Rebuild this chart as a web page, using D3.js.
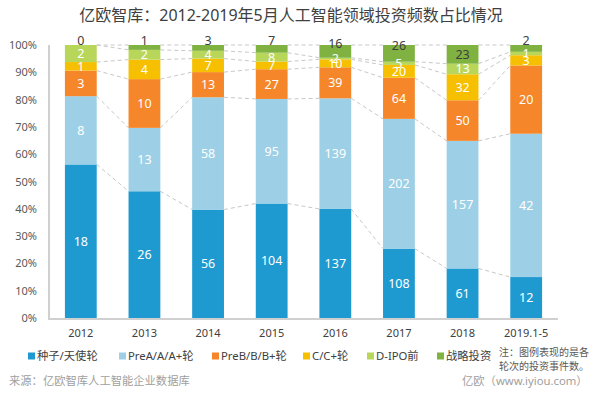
<!DOCTYPE html>
<html>
<head>
<meta charset="utf-8">
<script src="https://cdn.jsdelivr.net/npm/d3@7"></script>
<style>
  body { margin: 0; background: #fff; }
  svg { font-family: "Noto Sans", "Noto Sans CJK SC", sans-serif; }
</style>
</head>
<body>
<svg></svg>
<script>
const years = ["2012", "2013", "2014", "2015", "2016", "2017", "2018", "2019.1-5"];
const rounds = ["种子/天使轮", "PreA/A/A+轮", "PreB/B/B+轮", "C/C+轮", "D-IPO前", "战略投资"];
const seed = [18, 26, 56, 104, 137, 108, 61, 12];
const roundA = [8, 13, 58, 95, 139, 202, 157, 42];
const roundB = [3, 10, 13, 27, 39, 64, 50, 20];
const roundC = [1, 4, 7, 7, 10, 20, 32, 3];
const roundD = [2, 2, 4, 8, 2, 5, 13, 1];
const strategic = [0, 1, 3, 7, 16, 26, 23, 2];
const colors = ["#1f9ad0", "#9dd0e6", "#f5862a", "#f6c000", "#b8d65a", "#7fb241"];
const yTicks = [0, 0.1, 0.2, 0.3, 0.4, 0.5, 0.6, 0.7, 0.8, 0.9, 1];

const width = 600, height = 394;
const svg = d3.select("svg").attr("width", width).attr("height", height);

const series = [seed, roundA, roundB, roundC, roundD, strategic];
const table = years.map((y, i) => {
  const row = { year: y };
  rounds.forEach((r, k) => row[r] = series[k][i]);
  return row;
});
const stack = d3.stack().keys(rounds).offset(d3.stackOffsetExpand)(table);

const x = d3.scaleBand().domain(years).range([49, 558]).paddingInner(0.5).paddingOuter(0.25);
const y = d3.scaleLinear().domain([0, 1]).range([318, 45]);

// title
svg.append("text")
  .attr("x", 291).attr("y", 21)
  .attr("text-anchor", "middle")
  .style("font-size", "16px")
  .style("fill", "#404040")
  .text("亿欧智库：2012-2019年5月人工智能领域投资频数占比情况");

// y labels
svg.append("g").selectAll("text")
  .data(yTicks)
  .join("text")
  .attr("x", 37).attr("y", d => y(d) + 4)
  .attr("text-anchor", "end")
  .style("font-size", "11px")
  .style("fill", "#595959")
  .text(d => d3.format(".0%")(d));

// dashed connectors
const bw = x.bandwidth();
const levels = stack.map(s => s.map(d => d[1]));
levels.forEach(lv => {
  for (let i = 0; i < years.length - 1; i++) {
    svg.append("line")
      .attr("x1", x(years[i]) + bw).attr("y1", y(lv[i]))
      .attr("x2", x(years[i + 1])).attr("y2", y(lv[i + 1]))
      .attr("stroke", "#c8c8c8")
      .attr("stroke-width", 1)
      .attr("stroke-dasharray", "4,3");
  }
});

// bars
const groups = svg.append("g").selectAll("g")
  .data(stack)
  .join("g")
  .attr("fill", (d, k) => colors[k]);

groups.selectAll("rect")
  .data(d => d)
  .join("rect")
  .attr("x", d => x(d.data.year))
  .attr("width", bw)
  .attr("y", d => y(d[1]))
  .attr("height", d => y(d[0]) - y(d[1]));

// axes lines
svg.append("line")
  .attr("x1", 49).attr("x2", 49).attr("y1", 45).attr("y2", 319)
  .attr("stroke", "#d0d0d0").attr("stroke-width", 2);
svg.append("line")
  .attr("x1", 48).attr("x2", 558).attr("y1", 319).attr("y2", 319)
  .attr("stroke", "#d0d0d0").attr("stroke-width", 2);

// segment labels
stack.forEach((s, k) => {
  s.forEach((d, i) => {
    const h = y(d[0]) - y(d[1]);
    let cy = (y(d[0]) + y(d[1])) / 2;
    let fill = "#fff";
    if (k === rounds.length - 1) {
      fill = "#404040";
      if (h <= 18) cy = Math.max(40, y(d[1]) + h / 2 - 8);
    }
    svg.append("text")
      .attr("x", x(d.data.year) + bw / 2)
      .attr("y", cy + 4.5)
      .attr("text-anchor", "middle")
      .style("font-size", "12.5px")
      .style("fill", fill)
      .text(series[k][i]);
  });
});

// x labels
svg.append("g").selectAll("text")
  .data(years)
  .join("text")
  .attr("x", d => x(d) + bw / 2)
  .attr("y", 337)
  .attr("text-anchor", "middle")
  .style("font-size", "11px")
  .style("fill", "#404040")
  .text(d => d);

// legend
const legendX = [28, 119, 212, 303, 367, 437];
const legend = svg.append("g").selectAll("g")
  .data(rounds)
  .join("g")
  .attr("transform", (d, k) => `translate(${legendX[k]},356)`);
legend.append("rect")
  .attr("x", 0).attr("y", -3.5).attr("width", 7).attr("height", 7)
  .attr("fill", (d, k) => colors[k]);
legend.append("text")
  .attr("x", 9).attr("y", 4)
  .style("font-size", "11.3px")
  .style("fill", "#404040")
  .text(d => d);

svg.append("text")
  .attr("x", 499).attr("y", 356)
  .style("font-size", "10px").style("fill", "#595959")
  .text("注：图例表现的是各");
svg.append("text")
  .attr("x", 499).attr("y", 370)
  .style("font-size", "10px").style("fill", "#595959")
  .text("轮次的投资事件数。");

// source
svg.append("text")
  .attr("x", 9).attr("y", 385)
  .style("font-size", "11.3px").style("fill", "#a0a0a0")
  .text("来源：亿欧智库人工智能企业数据库");
svg.append("text")
  .attr("x", 462).attr("y", 385)
  .style("font-size", "11.3px").style("fill", "#a0a0a0")
  .text("亿欧（www.iyiou.com）");
</script>
</body>
</html>
